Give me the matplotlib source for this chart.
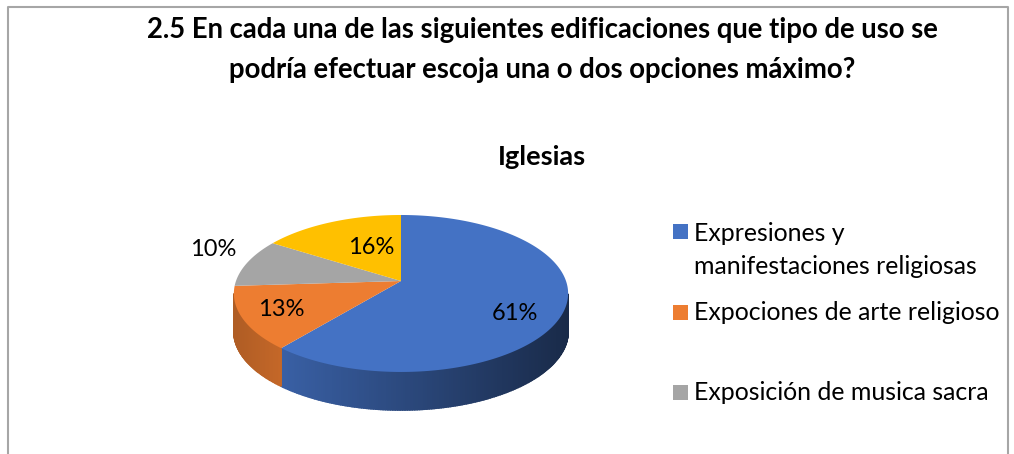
import numpy as np
import matplotlib
matplotlib.use("Agg")
import matplotlib.pyplot as plt
from matplotlib.colors import to_rgb
from matplotlib.patches import Rectangle

# values
title = "2.5 En cada una de las siguientes edificaciones que tipo de uso se\npodría efectuar escoja una o dos opciones máximo?"
subtitle = "Iglesias"
shares = [61, 13, 10, 16]
pct_labels = ["61%", "13%", "10%", "16%"]
legend_labels = ["Expresiones y\nmanifestaciones religiosas", "Expociones de arte religioso", "Exposición de musica sacra"]

colors = ["#4472C4", "#ED7D31", "#A5A5A5", "#FFC000"]
# how dark the side of each slice is at its left and right end
wall_shades = [(0.84, 0.37), (0.74, 0.83), (0.8, 0.8), (0.8, 0.8)]

# pie geometry in pixels (the tilted disc seen in perspective)
CX, CY = 401, 281
RX, RY = 165, 76.5
PERSP = 0.159
DEPTH = 38


def project(theta):
    # theta is clockwise from the top, back of the disc is further away
    u = np.sin(theta)
    v = np.cos(theta)
    w = 1 + PERSP * v
    return CX + RX * u / w, CY - RY * v / w


plt.rcParams["font.family"] = ["Lato", "DejaVu Sans"]
fig = plt.figure(figsize=(10.14, 4.54), dpi=100)
ax = fig.add_axes([0, 0, 1, 1])
ax.set_xlim(0, 1014)
ax.set_ylim(454, 0)
ax.axis("off")

# chart frame, cut off at the bottom of the picture
ax.plot([8, 8, 1008, 1008], [454, 6.5, 6.5, 454], color="#A6A6A6", lw=1.5)

ends = np.cumsum(shares) / np.sum(shares) * 2 * np.pi
starts = np.concatenate([[0], ends[:-1]])

# only the part of the rim that faces the viewer gets a wall
for start, end, color, shade in zip(starts, ends, colors, wall_shades):
    angles = np.linspace(start, end, int((end - start) * 80) + 2)
    angles = angles[np.cos(angles) <= -PERSP]
    if len(angles) < 2:
        continue
    xs, ys = project(angles)
    base = np.array(to_rgb(color))
    for i in range(len(angles) - 1):
        t = ((xs[i] + xs[i + 1]) / 2 - xs.min()) / (xs.max() - xs.min())
        c = base * (shade[0] + (shade[1] - shade[0]) * t)
        ax.fill([xs[i], xs[i + 1], xs[i + 1], xs[i]],
                [ys[i], ys[i + 1], ys[i + 1] + DEPTH, ys[i] + DEPTH],
                facecolor=c, edgecolor=c, lw=1.2, zorder=2)

for start, end, color in zip(starts, ends, colors):
    angles = np.linspace(start, end, 200)
    xs, ys = project(angles)
    ax.fill(np.r_[CX, xs], np.r_[CY, ys], color=color, lw=0, zorder=3)

label_pos = [(515, 314), (281, 309), (213, 249), (371, 247)]
for (x, y), txt in zip(label_pos, pct_labels):
    ax.text(x, y, txt, fontsize=17, ha="center", va="center", color="black", zorder=4)

ax.text(542, 50, title, fontsize=19.8, fontweight="bold", ha="center", va="center",
        linespacing=1.63, color="black")
ax.text(542, 157, subtitle, fontsize=19.5, fontweight="bold", ha="center", va="center", color="black")

square_y = [231.5, 312.5, 392.5]
for y, color in zip(square_y, colors):
    ax.add_patch(Rectangle((673, y - 7.5), 15, 15, color=color, lw=0))

ax.text(694, 222, legend_labels[0], fontsize=17.9, ha="left", va="top", linespacing=1.54, color="black")
ax.text(694, 312, legend_labels[1], fontsize=17.9, ha="left", va="center", color="black")
ax.text(694, 392, legend_labels[2], fontsize=17.9, ha="left", va="center", color="black")

fig.savefig("out.png", dpi=100)
